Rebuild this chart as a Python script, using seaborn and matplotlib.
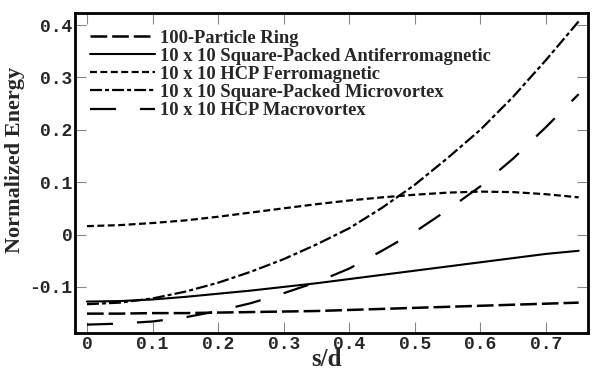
import matplotlib
matplotlib.use("Agg")
import matplotlib.pyplot as plt
import seaborn as sns
import pandas as pd
from matplotlib.ticker import FuncFormatter

# --- data ---
s_d = [0.0, 0.05, 0.1, 0.15, 0.2, 0.25, 0.3, 0.35, 0.4, 0.45, 0.5, 0.55, 0.6, 0.65, 0.7, 0.75]

ring = [-0.151, -0.151, -0.150, -0.150, -0.149, -0.148, -0.147, -0.146,
        -0.144, -0.142, -0.140, -0.138, -0.136, -0.134, -0.132, -0.130]
sq_antiferro = [-0.128, -0.127, -0.124, -0.119, -0.113, -0.107, -0.100, -0.093,
                -0.085, -0.077, -0.069, -0.061, -0.053, -0.045, -0.037, -0.031]
hcp_ferro = [0.016, 0.018, 0.022, 0.027, 0.034, 0.042, 0.050, 0.058,
             0.065, 0.071, 0.076, 0.080, 0.082, 0.081, 0.077, 0.071]
sq_micro = [-0.133, -0.130, -0.122, -0.109, -0.092, -0.071, -0.047, -0.019,
            0.012, 0.051, 0.095, 0.146, 0.200, 0.263, 0.333, 0.407]
hcp_macro = [-0.172, -0.170, -0.166, -0.158, -0.146, -0.131, -0.112, -0.091,
             -0.065, -0.031, 0.005, 0.047, 0.092, 0.145, 0.205, 0.268]

labels = ["100-Particle Ring",
          "10 x 10 Square-Packed Antiferromagnetic",
          "10 x 10 HCP Ferromagnetic",
          "10 x 10 Square-Packed Microvortex",
          "10 x 10 HCP Macrovortex"]
series = [ring, sq_antiferro, hcp_ferro, sq_micro, hcp_macro]

# dash patterns in points
styles = [(0, (12, 3.6)), "-", (0, (5, 2.5)), (0, (8.6, 2.2, 2.9, 2.2)), (0, (18.7, 17.3))]
widths = [1.8, 1.5, 1.6, 1.6, 1.6]

sns.set_style("ticks")
plt.rcParams["lines.scale_dashes"] = False

fig = plt.figure(figsize=(5.92, 3.71), dpi=100)
ax = fig.add_axes([0.127, 0.1024, 0.866, 0.8626])

for lab, vals, ls, lw in zip(labels, series, styles, widths):
    df = pd.DataFrame({"s": s_d, "E": vals})
    sns.lineplot(data=df, x="s", y="E", ax=ax, color="black",
                 linestyle=ls, linewidth=lw, label=lab)

ax.set_xlim(-0.018, 0.764)
ax.set_ylim(-0.188, 0.423)
ax.set_xticks([0, 0.1, 0.2, 0.3, 0.4, 0.5, 0.6, 0.7])
ax.set_yticks([-0.1, 0, 0.1, 0.2, 0.3, 0.4])
fmt = FuncFormatter(lambda v, p: ("%g" % round(v, 2)))
ax.xaxis.set_major_formatter(fmt)
ax.yaxis.set_major_formatter(fmt)

ax.tick_params(direction="in", length=8, width=0.8, color="#888888",
               top=True, right=True, pad=2)
for lbl in ax.get_xticklabels() + ax.get_yticklabels():
    lbl.set_fontfamily("Liberation Mono")
    lbl.set_fontweight("bold")
    lbl.set_fontsize(13)

for sp in ax.spines.values():
    sp.set_linewidth(2.0)
    sp.set_color("black")

ax.set_xlabel("s/d", fontfamily="Liberation Serif", fontweight="bold",
              fontsize=18, va="bottom")
ax.xaxis.set_label_coords(0.49, -0.118)
ax.set_ylabel("Normalized Energy", fontfamily="Liberation Serif",
              fontweight="bold", fontsize=16)
ax.yaxis.set_label_coords(-0.0975, 0.54)

ax.legend(loc="upper left", bbox_to_anchor=(0.029, 0.948), frameon=False,
          borderpad=0, borderaxespad=0, labelspacing=0.06, handlelength=3.5,
          handletextpad=0.3,
          prop={"family": "Liberation Serif", "weight": "bold", "size": 13.3})

fig.savefig("out.png", dpi=100)
